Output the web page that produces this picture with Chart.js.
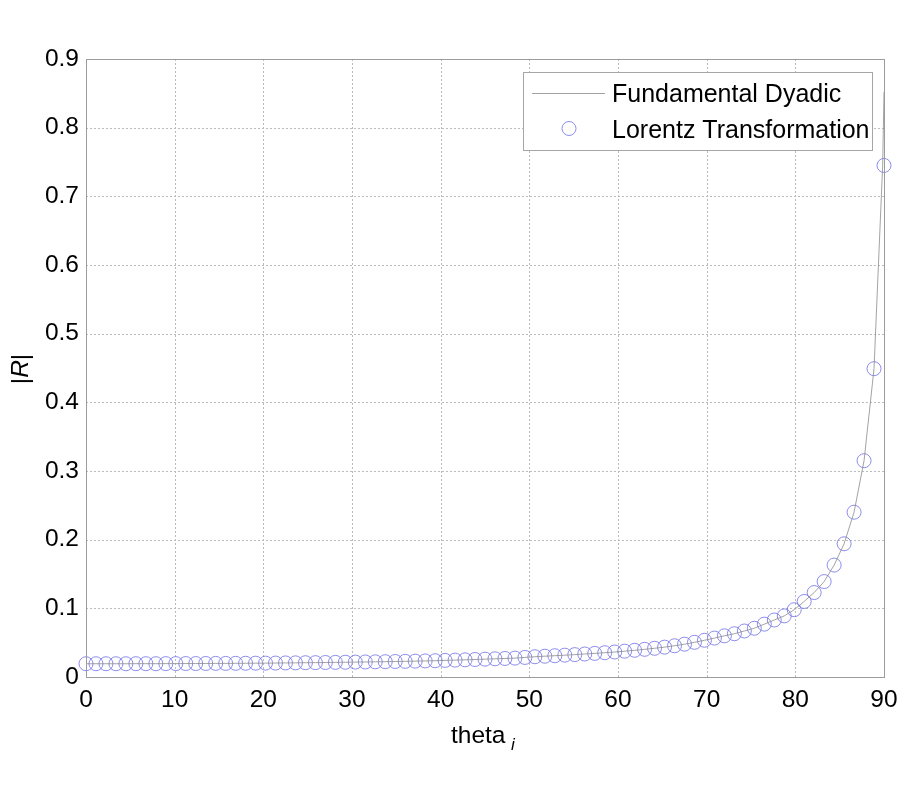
<!DOCTYPE html>
<html>
<head>
<meta charset="utf-8">
<script src="https://cdn.jsdelivr.net/npm/chart.js@4.4.0/dist/chart.umd.min.js"></script>
<style>
  html, body { margin: 0; padding: 0; background: #fff; }
</style>
</head>
<body>
<canvas id="chart" width="900" height="800"></canvas>
<script>
// incidence angle (deg) of the sampled points
const thetaValues = [
  0, 1.125, 2.25, 3.375, 4.5, 5.625, 6.75, 7.875, 9, 10.125,
  11.25, 12.375, 13.5, 14.625, 15.75, 16.875, 18, 19.125, 20.25, 21.375,
  22.5, 23.625, 24.75, 25.875, 27, 28.125, 29.25, 30.375, 31.5, 32.625,
  33.75, 34.875, 36, 37.125, 38.25, 39.375, 40.5, 41.625, 42.75, 43.875,
  45, 46.125, 47.25, 48.375, 49.5, 50.625, 51.75, 52.875, 54, 55.125,
  56.25, 57.375, 58.5, 59.625, 60.75, 61.875, 63, 64.125, 65.25, 66.375,
  67.5, 68.625, 69.75, 70.875, 72, 73.125, 74.25, 75.375, 76.5, 77.625,
  78.75, 79.875, 81, 82.125, 83.25, 84.375, 85.5, 86.625, 87.75, 88.875,
  90
];
// |R| from the Lorentz transformation (circles)
const lorentzR = [
  0.0193, 0.0193, 0.0193, 0.0193, 0.0193, 0.0194, 0.0194, 0.0194, 0.0195, 0.0195,
  0.0196, 0.0196, 0.0197, 0.0198, 0.0198, 0.0199, 0.0200, 0.0201, 0.0202, 0.0203,
  0.0205, 0.0206, 0.0208, 0.0209, 0.0211, 0.0213, 0.0215, 0.0217, 0.0219, 0.0221,
  0.0223, 0.0226, 0.0228, 0.0231, 0.0234, 0.0237, 0.0242, 0.0246, 0.0250, 0.0255,
  0.0260, 0.0265, 0.0270, 0.0275, 0.0285, 0.0295, 0.0303, 0.0310, 0.0318, 0.0326,
  0.0335, 0.0344, 0.0354, 0.0364, 0.0376, 0.0389, 0.0403, 0.0418, 0.0435, 0.0455,
  0.0478, 0.0505, 0.0535, 0.0567, 0.0600, 0.0630, 0.0670, 0.0710, 0.0770, 0.0830,
  0.0890, 0.0980, 0.1100, 0.1230, 0.1390, 0.1630, 0.1940, 0.2400, 0.3150, 0.4490,
  0.7450
];
// fundamental dyadic curve: follows the circles, then runs up to the edge
const dyadicTail = [89.85, 90];
const dyadicTailR = [0.745, 0.852];
const dyadicTheta = thetaValues.slice(0, 80).concat(dyadicTail);
const dyadicR = lorentzR.slice(0, 80).concat(dyadicTailR);

const xTicks = [0, 10, 20, 30, 40, 50, 60, 70, 80, 90];
const yTicks = [0, 0.1, 0.2, 0.3, 0.4, 0.5, 0.6, 0.7, 0.8, 0.9];
const seriesNames = ["Fundamental Dyadic", "Lorentz Transformation"];

const FONT = "'Liberation Sans', Arial, Helvetica, sans-serif";
const LINE_COLOR = "#8c8c8c";
const CIRCLE_COLOR = "#7070e8";

const toPoints = (xs, ys) => xs.map((x, i) => ({ x: x, y: ys[i] }));

const frame = {
  id: "frame",
  beforeDatasetsDraw(chart) {
    const { ctx, chartArea: a, scales: { x, y } } = chart;
    ctx.save();
    ctx.strokeStyle = "#bcbcbc";
    ctx.lineWidth = 1;
    ctx.setLineDash([2, 2]);
    xTicks.forEach(v => {
      const px = Math.round(x.getPixelForValue(v)) + 0.5;
      ctx.beginPath(); ctx.moveTo(px, a.top); ctx.lineTo(px, a.bottom); ctx.stroke();
    });
    yTicks.forEach(v => {
      const py = Math.round(y.getPixelForValue(v)) + 0.5;
      ctx.beginPath(); ctx.moveTo(a.left, py); ctx.lineTo(a.right, py); ctx.stroke();
    });
    ctx.restore();
  },
  afterDraw(chart) {
    const { ctx, chartArea: a } = chart;
    ctx.save();
    // axes box
    ctx.strokeStyle = "#9c9c9c";
    ctx.lineWidth = 1;
    ctx.strokeRect(Math.round(a.left) + 0.5, Math.round(a.top) + 0.5,
      Math.round(a.right - a.left), Math.round(a.bottom - a.top));

    // x title: theta with subscript i
    ctx.fillStyle = "#000";
    ctx.textBaseline = "alphabetic";
    ctx.textAlign = "left";
    ctx.font = "24.5px " + FONT;
    ctx.fillText("theta", 451, 743);
    ctx.font = "italic 17px " + FONT;
    ctx.fillText("i", 511, 750);

    // y title |R|
    ctx.save();
    ctx.translate(28, 369);
    ctx.rotate(-Math.PI / 2);
    ctx.font = "24.5px " + FONT;
    const wBar = ctx.measureText("|").width;
    ctx.font = "italic 24.5px " + FONT;
    const wR = ctx.measureText("R").width;
    let tx = -(2 * wBar + wR) / 2;
    ctx.font = "24.5px " + FONT;
    ctx.fillText("|", tx, 0); tx += wBar;
    ctx.font = "italic 24.5px " + FONT;
    ctx.fillText("R", tx, 0); tx += wR;
    ctx.font = "24.5px " + FONT;
    ctx.fillText("|", tx, 0);
    ctx.restore();

    // legend
    const bx = 523.5, by = 72.5, bw = 349, bh = 78;
    ctx.fillStyle = "#fff";
    ctx.fillRect(bx, by, bw, bh);
    ctx.strokeStyle = "#a6a6a6";
    ctx.strokeRect(bx, by, bw, bh);
    ctx.strokeStyle = LINE_COLOR;
    ctx.lineWidth = 0.8;
    ctx.beginPath(); ctx.moveTo(532, 93.5); ctx.lineTo(605, 93.5); ctx.stroke();
    ctx.strokeStyle = CIRCLE_COLOR;
    ctx.beginPath(); ctx.arc(569, 128.5, 7, 0, 2 * Math.PI); ctx.stroke();
    ctx.fillStyle = "#000";
    ctx.font = "25px " + FONT;
    ctx.fillText(seriesNames[0], 612, 102);
    ctx.fillText(seriesNames[1], 612, 138);
    ctx.restore();
  }
};

new Chart(document.getElementById("chart"), {
  type: "scatter",
  data: {
    datasets: [
      {
        label: seriesNames[0],
        data: toPoints(dyadicTheta, dyadicR),
        showLine: true,
        borderColor: LINE_COLOR,
        borderWidth: 0.8,
        pointRadius: 0,
        fill: false,
        tension: 0,
        clip: false
      },
      {
        label: seriesNames[1],
        data: toPoints(thetaValues, lorentzR),
        showLine: false,
        pointStyle: "circle",
        pointRadius: 7,
        pointBorderWidth: 0.8,
        pointBorderColor: CIRCLE_COLOR,
        pointBackgroundColor: "rgba(0,0,0,0)",
        clip: false
      }
    ]
  },
  options: {
    responsive: false,
    animation: false,
    layout: { padding: { top: 59, right: 16, left: 0, bottom: 0 } },
    plugins: { legend: { display: false }, tooltip: { enabled: false } },
    scales: {
      x: {
        type: "linear",
        min: 0,
        max: 90,
        afterBuildTicks: s => { s.ticks = xTicks.map(v => ({ value: v })); },
        afterFit: s => { s.height = 123; s.paddingLeft = 0; s.paddingRight = 0; },
        grid: { display: false, drawTicks: false },
        border: { display: false },
        ticks: {
          color: "#000",
          padding: 9,
          maxRotation: 0,
          font: { family: FONT, size: 24.5 },
          callback: v => String(v)
        }
      },
      y: {
        type: "linear",
        min: 0,
        max: 0.9,
        afterBuildTicks: s => { s.ticks = yTicks.map(v => ({ value: v })); },
        afterFit: s => { s.width = 86; s.paddingTop = 0; s.paddingBottom = 0; },
        grid: { display: false, drawTicks: false },
        border: { display: false },
        ticks: {
          color: "#000",
          padding: 7,
          font: { family: FONT, size: 24.5 },
          callback: v => (v === 0 ? "0" : v.toFixed(1))
        }
      }
    }
  },
  plugins: [frame]
});
</script>
</body>
</html>
